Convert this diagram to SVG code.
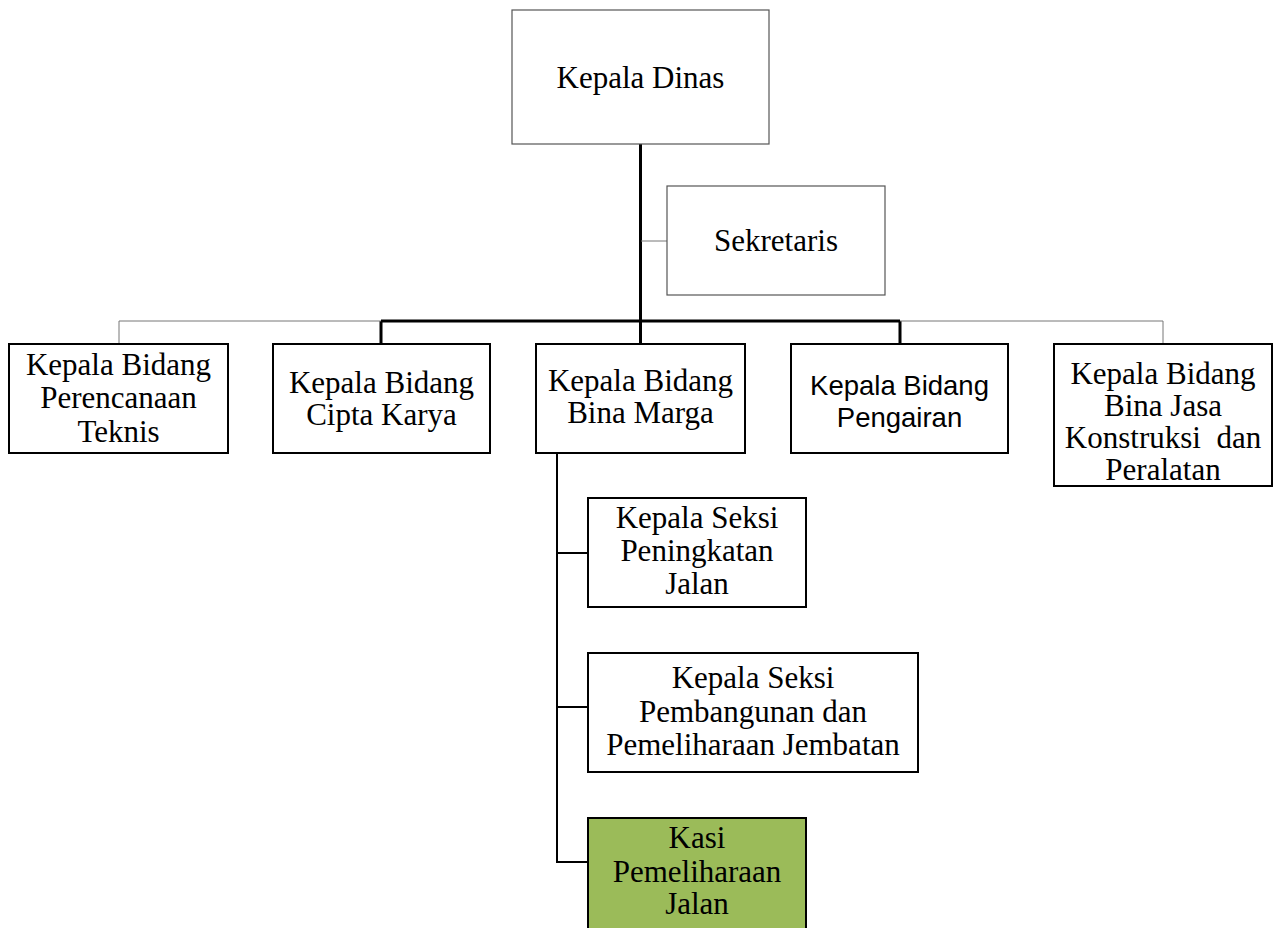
<svg xmlns="http://www.w3.org/2000/svg" width="1280" height="928" viewBox="0 0 1280 928">
<style>
.thin{fill:#fff;stroke:#555;stroke-width:1.2}
.box{fill:#fff;stroke:#000;stroke-width:2}
.green{fill:#9BBB59;stroke:#000;stroke-width:2}
.t{font-family:"Liberation Serif","Times New Roman",serif;font-size:31px;fill:#000;text-anchor:middle}
.s{font-family:"Liberation Sans",Arial,sans-serif;font-size:27.5px;fill:#000;text-anchor:middle}
.c3{stroke:#000;stroke-width:3;fill:none}
.c2{stroke:#000;stroke-width:2;fill:none}
.c1{stroke:#777;stroke-width:1;fill:none}
</style>
<rect width="1280" height="928" fill="#fff"/>
<g id="connectors">
<path class="c3" d="M640.5 144V344"/>
<path class="c1" d="M641 241H667"/>
<path class="c3" d="M381 321H900"/>
<path class="c3" d="M381 321V344M900 321V344"/>
<path class="c1" d="M119 344V321H381M900 321H1163V344"/>
<path class="c2" d="M557 453V862H588M557 553H588M557 707H588"/>
</g>
<g id="kepala-dinas"><rect class="thin" x="512" y="10" width="257" height="134"/><text class="t" x="640.5" y="88">Kepala Dinas</text></g>
<g id="sekretaris"><rect class="thin" x="667" y="186" width="218" height="109"/><text class="t" x="776" y="251">Sekretaris</text></g>
<g id="perencanaan"><rect class="box" x="9" y="344" width="219" height="109"/><text class="t" x="118.5" y="375">Kepala Bidang</text><text class="t" x="118.5" y="408">Perencanaan</text><text class="t" x="118.5" y="442">Teknis</text></g>
<g id="cipta-karya"><rect class="box" x="273" y="344" width="217" height="109"/><text class="t" x="381.5" y="393">Kepala Bidang</text><text class="t" x="381.5" y="425">Cipta Karya</text></g>
<g id="bina-marga"><rect class="box" x="536" y="344" width="209" height="109"/><text class="t" x="640.5" y="391">Kepala Bidang</text><text class="t" x="640.5" y="423">Bina Marga</text></g>
<g id="pengairan"><rect class="box" x="791" y="344" width="217" height="109"/><text class="s" x="899.5" y="395">Kepala Bidang</text><text class="s" x="899.5" y="427">Pengairan</text></g>
<g id="bina-jasa"><rect class="box" x="1054" y="344" width="218" height="142"/><text class="t" x="1163" y="384">Kepala Bidang</text><text class="t" x="1163" y="416">Bina Jasa</text><text class="t" x="1163" y="448" xml:space="preserve">Konstruksi  dan</text><text class="t" x="1163" y="480">Peralatan</text></g>
<g id="peningkatan"><rect class="box" x="588" y="498" width="218" height="109"/><text class="t" x="697" y="528">Kepala Seksi</text><text class="t" x="697" y="561">Peningkatan</text><text class="t" x="697" y="594">Jalan</text></g>
<g id="pembangunan"><rect class="box" x="588" y="653" width="330" height="119"/><text class="t" x="753" y="688">Kepala Seksi</text><text class="t" x="753" y="722">Pembangunan dan</text><text class="t" x="753" y="755">Pemeliharaan Jembatan</text></g>
<g id="kasi"><rect class="green" x="588" y="818" width="218" height="115"/><text class="t" x="697" y="848">Kasi</text><text class="t" x="697" y="882">Pemeliharaan</text><text class="t" x="697" y="914">Jalan</text></g>
</svg>
